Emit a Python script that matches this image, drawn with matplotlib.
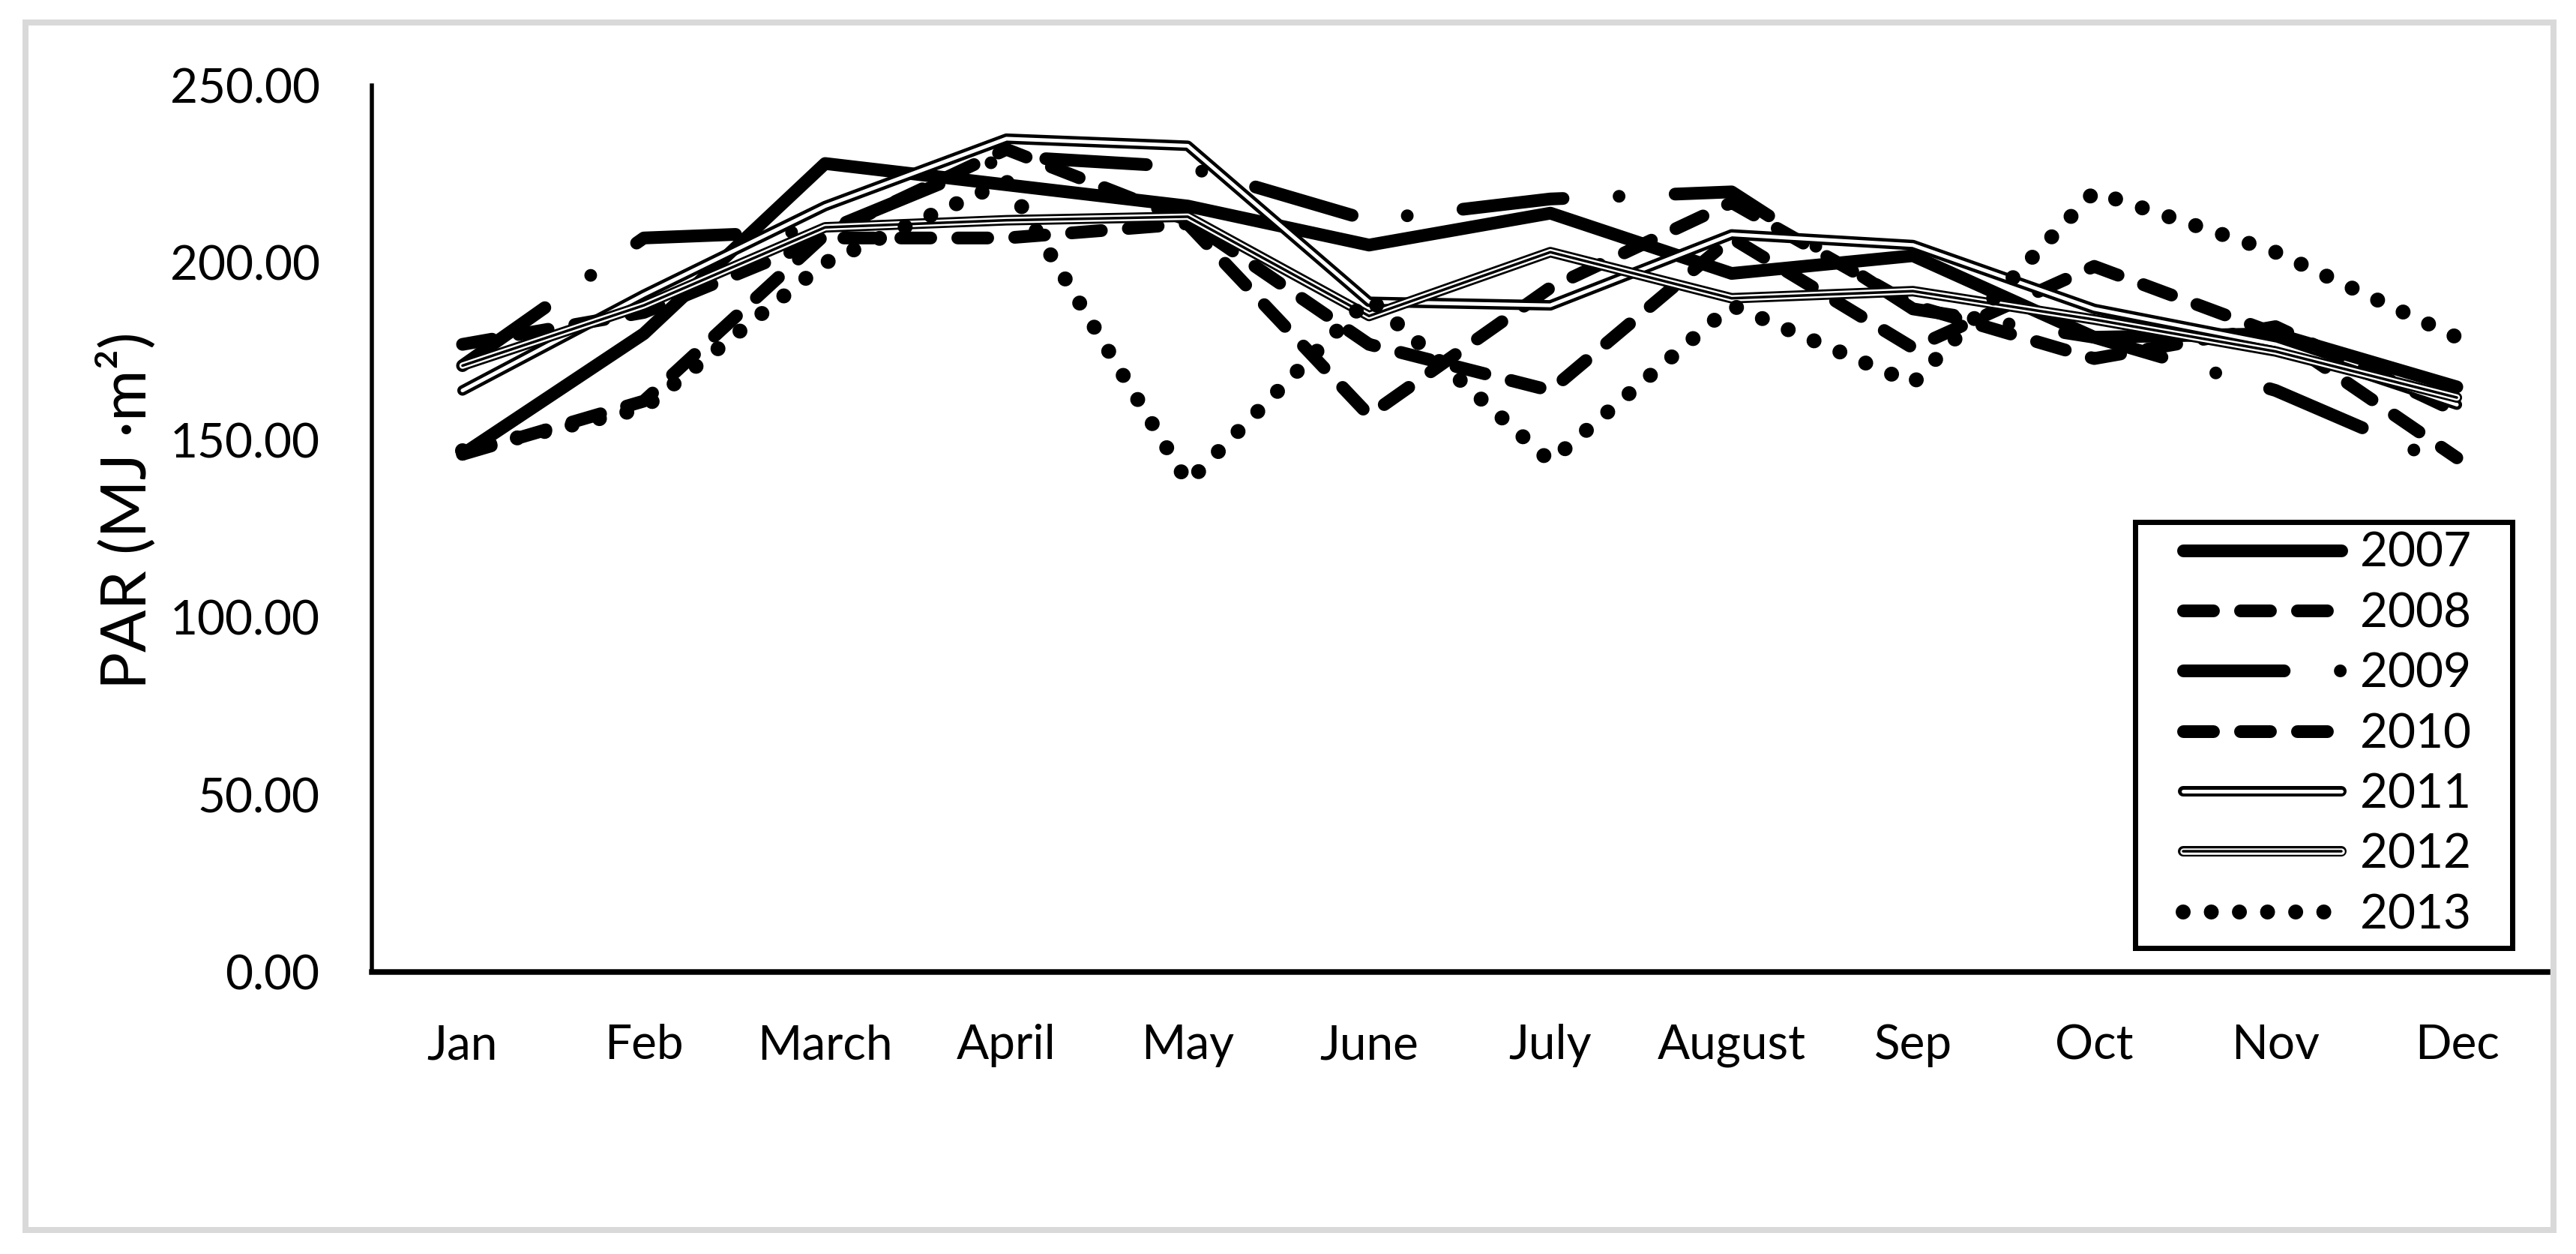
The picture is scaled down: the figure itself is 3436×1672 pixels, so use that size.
import matplotlib
matplotlib.use("Agg")
import matplotlib.pyplot as plt
from matplotlib.patches import Rectangle

# monthly PAR values
months = ["Jan", "Feb", "March", "April", "May", "June", "July",
          "August", "Sep", "Oct", "Nov", "Dec"]
par_2007 = [146, 180, 228, 222, 216, 205, 214, 197, 202, 179, 180, 165]
par_2008 = [146, 161, 208, 232, 212, 177, 164, 207, 176, 199, 180, 145]
par_2009 = [171, 207, 209, 230, 227, 212, 218, 220, 187, 179, 164, 142]
par_2010 = [177, 186, 207, 207, 211, 157, 193, 217, 188, 173, 182, 158]
par_2011 = [164, 191, 216, 235, 233, 189, 188, 208, 205, 187, 177, 160]
par_2012 = [171, 188, 210, 212, 213, 185, 203, 190, 192, 184, 175, 162]
par_2013 = [147, 159, 200, 223, 138, 190, 144, 188, 166, 220, 203, 179]
years = ["2007", "2008", "2009", "2010", "2011", "2012", "2013"]
y_ticks = [0, 50, 100, 150, 200, 250]

plt.rcParams['font.family'] = ['Lato', 'DejaVu Sans']

DPI = 200
W, H = 3436, 1672


def px(n):
    # pixels -> points
    return n * 72.0 / DPI


fig = plt.figure(figsize=(W / DPI, H / DPI), dpi=DPI)
ax = fig.add_axes([496 / W, 1 - 1296 / H, (3398 - 496) / W, (1296 - 114) / H])

x = list(range(len(months)))
lw = px(17)
round_kw = dict(solid_capstyle='round', solid_joinstyle='round',
                dash_capstyle='round', dash_joinstyle='round')

h07, = ax.plot(x, par_2007, color='black', lw=lw, zorder=3, **round_kw)
h08, = ax.plot(x, par_2008, color='black', lw=lw, dashes=(2.35, 2.12), zorder=4, **round_kw)
h09, = ax.plot(x, par_2009, color='black', lw=lw, dashes=(7.9, 4.4, 0.001, 4.4), zorder=5, **round_kw)
h10, = ax.plot(x, par_2010, color='black', lw=lw, dashes=(2.35, 2.12), zorder=6, **round_kw)

# double line (2011)
h11a, = ax.plot(x, par_2011, color='black', lw=px(14), zorder=7, **round_kw)
h11b, = ax.plot(x, par_2011, color='white', lw=px(5), zorder=7.1, **round_kw)

# triple line (2012)
h12a, = ax.plot(x, par_2012, color='black', lw=px(14), zorder=8, **round_kw)
h12b, = ax.plot(x, par_2012, color='white', lw=px(8.5), zorder=8.1, **round_kw)
h12c, = ax.plot(x, par_2012, color='black', lw=px(3.5), zorder=8.2, **round_kw)

h13, = ax.plot(x, par_2013, color='black', lw=px(20), dashes=(0.001, 1.875), zorder=9, **round_kw)

ax.set_xlim(-0.5, len(months) - 0.5)
ax.set_ylim(0, 250)
ax.set_yticks(y_ticks)
ax.set_yticklabels(["%.2f" % v for v in y_ticks])
ax.set_xticks(x)
ax.set_xticklabels(months)
ax.tick_params(axis='both', length=0, labelsize=23)
ax.tick_params(axis='y', pad=25)
ax.tick_params(axis='x', pad=25)

for side in ['top', 'right']:
    ax.spines[side].set_visible(False)
ax.spines['left'].set_linewidth(px(5.5))
ax.spines['bottom'].set_linewidth(px(7.5))
ax.spines['left'].set_zorder(10)
ax.spines['bottom'].set_zorder(10)
ax.patch.set_alpha(0)

fig.text(170 / W, 1 - 681 / H, "PAR (MJ ·m²)", rotation=90, fontsize=30,
         ha='center', va='center')

handles = [h07, h08, h09, h10, (h11a, h11b), (h12a, h12b, h12c), h13]
leg = fig.legend(handles, years, loc='center',
                 bbox_to_anchor=(3104 / W, 1 - 979 / H), bbox_transform=fig.transFigure,
                 frameon=False, fontsize=23, handlelength=3.3, handletextpad=0.39,
                 labelspacing=0.35, borderpad=0)

fig.patches.append(Rectangle((2848 / W, 1 - 1264 / H), (3351 - 2848) / W, (1264 - 696) / H,
                             transform=fig.transFigure, fill=False, edgecolor='black',
                             lw=px(7), zorder=20))

# light grey chart border
fig.patches.append(Rectangle((34 / W, 1 - 1640 / H), (3406 - 34) / W, (1640 - 30) / H,
                             transform=fig.transFigure, fill=False, edgecolor='#d9d9d9',
                             lw=px(8), zorder=0))

fig.savefig("out.png", dpi=DPI, facecolor='white')
